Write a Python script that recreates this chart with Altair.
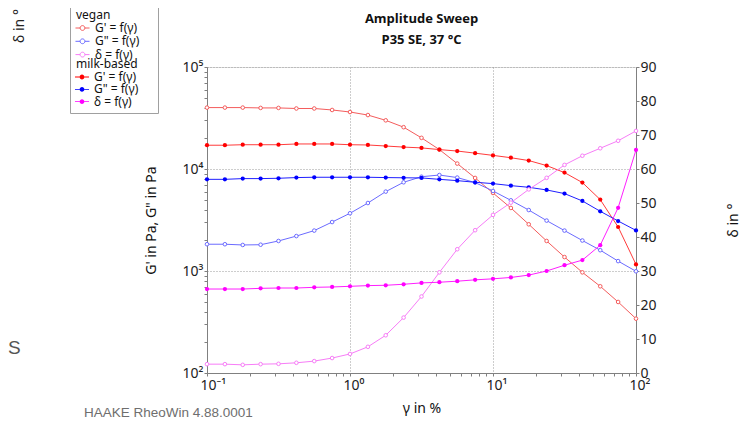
import altair as alt
import pandas as pd

# ---------------- data ----------------
strain = [0.1, 0.1334, 0.1778, 0.2371, 0.3162, 0.4217, 0.5623, 0.7499,
          1.0, 1.334, 1.778, 2.371, 3.162, 4.217, 5.623, 7.499,
          10.0, 13.34, 17.78, 23.71, 31.62, 42.17, 56.23, 74.99, 100.0]

vegan_G1 = [40000, 40000, 40000, 39700, 39700, 39200, 39200, 37900,
            36200, 33800, 30000, 25700, 20200, 15500, 11300, 8170,
            5820, 4150, 2870, 1970, 1370, 970, 708, 497, 341]
vegan_G2 = [1830, 1830, 1800, 1810, 1970, 2200, 2490, 3020,
            3680, 4640, 6000, 7410, 8400, 8730, 8240, 7360,
            6090, 4930, 3960, 3120, 2490, 1990, 1600, 1250, 993]
vegan_delta = [2.6, 2.6, 2.4, 2.6, 2.7, 3.0, 3.5, 4.4,
               5.6, 7.7, 11.1, 16.3, 22.5, 29.6, 36.4, 42.0,
               46.5, 50.1, 54.0, 57.4, 61.2, 63.9, 66.1, 68.3, 71.2]
milk_G1 = [17100, 17100, 17300, 17300, 17300, 17600, 17600, 17600,
           17300, 17200, 16800, 16400, 16100, 15500, 15000, 14300,
           13600, 12900, 12100, 10800, 9220, 7360, 5010, 2700, 1160]
milk_G2 = [7920, 7920, 8050, 8050, 8110, 8240, 8300, 8300,
           8300, 8300, 8240, 8200, 8170, 7920, 7690, 7410,
           7190, 6870, 6620, 6230, 5740, 4860, 3850, 3090, 2500]
milk_delta = [24.7, 24.7, 24.7, 24.9, 25.0, 25.0, 25.2, 25.3,
              25.5, 25.7, 25.8, 26.1, 26.5, 26.7, 27.0, 27.4,
              27.7, 28.1, 28.8, 30.0, 31.7, 33.2, 37.6, 48.6, 65.6]

series_keys = ["vegan G'", 'vegan G"', "vegan δ", "milk G'", 'milk G"', "milk δ"]
vegan_keys = series_keys[:3]
milk_keys = series_keys[3:]
line_colors = ["#f45c5c", "#6b6bff", "#f77df7", "#ff3b3b", "#1f1fff", "#ff1fff"]
milk_fill_colors = ["#ff0000", "#0000ff", "#ff00ff"]

x_ticks = [m * 10.0 ** e for e in (-1, 0, 1) for m in range(1, 10)] + [100.0]
y_ticks = [m * 10.0 ** e for e in (2, 3, 4) for m in range(1, 10)] + [100000.0]
d_ticks = list(range(0, 91, 10))

# ---------------- tables ----------------
def long_table(items, col):
    rows = []
    for key, group, vals in items:
        for xv, v in zip(strain, vals):
            rows.append({"strain": xv, col: v, "series": key, "group": group})
    return pd.DataFrame(rows)

df_G = long_table([(series_keys[0], "vegan", vegan_G1),
                   (series_keys[1], "vegan", vegan_G2),
                   (series_keys[3], "milk", milk_G1),
                   (series_keys[4], "milk", milk_G2)], "G")
df_d = long_table([(series_keys[2], "vegan", vegan_delta),
                   (series_keys[5], "milk", milk_delta)], "delta")

# ---------------- axes ----------------
FONT = "Noto Sans"
dec = "abs(log(datum.value)/LN10 - round(log(datum.value)/LN10)) < 0.001"
ex = "round(log(datum.value)/LN10)"
pow_label = (f"({dec}) ? '10' + ({ex} < 0 ? '⁻' : '') + "
             f"substring('⁰¹²³⁴⁵⁶⁷⁸⁹', abs({ex}), abs({ex}) + 1) : ''")
grid_cond = {"condition": {"test": dec, "value": 1}, "value": 0}

x_axis = alt.Axis(values=x_ticks, labelExpr=pow_label, grid=True, gridOpacity=grid_cond,
                  gridColor="#9a9a9a", gridDash=[1, 2], tickSize=3, tickColor="#808080",
                  domainColor="#808080", labelFontSize=14, labelFont=FONT, labelColor="#222",
                  labelPadding=2, labelAlign="left", labelOffset=-7, labelFlush=False,
                  labelOverlap=False, title="γ in %", titleFont=FONT, titleFontSize=14,
                  titleFontWeight="normal", titleColor="#111", titlePadding=9)
y_axis = alt.Axis(orient="left", values=y_ticks, labelExpr=pow_label, grid=True,
                  gridOpacity=grid_cond, gridColor="#9a9a9a", gridDash=[1, 2], tickSize=3,
                  tickColor="#808080", domainColor="#808080", labelFontSize=14, labelFont=FONT,
                  labelColor="#222", labelPadding=1, labelFlush=False, labelOverlap=False,
                  title="G' in Pa, G\" in Pa", titleFont=FONT, titleFontSize=14,
                  titleFontWeight="normal", titleColor="#111", titlePadding=24)
d_axis = alt.Axis(orient="right", values=d_ticks, grid=False, tickSize=3, tickColor="#808080",
                  domainColor="#808080", labelFontSize=14, labelFont=FONT, labelColor="#222",
                  labelPadding=1, labelFlush=False, title="δ in °", titleFont=FONT,
                  titleFontSize=14, titleFontWeight="normal", titleColor="#111",
                  titleAngle=270, titleBaseline="top", titlePadding=70)

x_enc = alt.X("strain:Q", scale=alt.Scale(type="log", domain=[0.1, 100], nice=False), axis=x_axis)
yG_enc = alt.Y("G:Q", scale=alt.Scale(type="log", domain=[100, 100000], nice=False), axis=y_axis)
yd_enc = alt.Y("delta:Q", scale=alt.Scale(domain=[0, 90], nice=False, zero=False), axis=d_axis)

# ---------------- legends ----------------
open_sym = "M-1.17,0H-0.4M0.4,0H1.17M0.4,0A0.4,0.4,0,1,1,-0.4,0A0.4,0.4,0,1,1,0.4,0"
fill_sym = ("M-1.17,-0.07H-0.4V0.07H-1.17Z M0.4,-0.07H1.17V0.07H0.4Z "
            "M0.4,0A0.4,0.4,0,1,1,-0.4,0A0.4,0.4,0,1,1,0.4,0Z")
lab_expr = "split(datum.label, ' ')[1] + ' = f(γ)'"
common_leg = dict(orient="none", legendX=-131, padding=0, rowPadding=0.3, labelFont=FONT,
                  labelFontSize=12, labelColor="#111", labelOffset=6, labelExpr=lab_expr,
                  titleFont=FONT, titleFontSize=12, titleFontWeight="normal", titleColor="#111",
                  titlePadding=0, symbolSize=144, symbolOpacity=1)
legend_vegan = alt.Legend(title="vegan", legendY=-57.5, values=vegan_keys, symbolType=open_sym,
                          symbolFillColor="white", symbolStrokeWidth=1, **common_leg)
legend_milk = alt.Legend(title="milk-based", legendY=-8, symbolType=fill_sym,
                         symbolStrokeWidth=0, **common_leg)

stroke_enc = alt.Stroke("series:N", scale=alt.Scale(domain=series_keys, range=line_colors),
                        legend=legend_vegan)
fill_enc = alt.Fill("series:N", scale=alt.Scale(domain=milk_keys, range=milk_fill_colors),
                    legend=legend_milk)

# ---------------- layers ----------------
def series_layers(df, y_enc):
    base = alt.Chart(df)
    lines = base.mark_line(strokeWidth=1, clip=False).encode(x=x_enc, y=y_enc, stroke=stroke_enc)
    open_pts = base.transform_filter(alt.datum.group == "vegan").mark_circle(
        size=13, fill="white", strokeWidth=1, opacity=1).encode(x=x_enc, y=y_enc, stroke=stroke_enc)
    full_pts = base.transform_filter(alt.datum.group == "milk").mark_circle(
        size=18, opacity=1).encode(x=x_enc, y=y_enc, fill=fill_enc)
    return [lines, open_pts, full_pts]

one = pd.DataFrame({"k": [0]})
legend_box = alt.Chart(one).mark_rect(fill="white", fillOpacity=0, stroke="#a0a0a0",
                                      strokeWidth=1).encode(
    x=alt.value(-136.5), x2=alt.value(-48.5), y=alt.value(-60.5), y2=alt.value(46.5))
footer = alt.Chart(one).mark_text(text="HAAKE RheoWin 4.88.0001", font="Liberation Sans",
                                  fontSize=13.5, color="#6e6e6e", align="left",
                                  baseline="middle").encode(x=alt.value(-123), y=alt.value(346))
stray_delta = alt.Chart(one).mark_text(text="δ in °", font=FONT, fontSize=14, color="#222",
                                       angle=270, align="center", baseline="middle").encode(
    x=alt.value(-187), y=alt.value(-41))
stray_s = alt.Chart(one).mark_text(text="S", font="Liberation Sans", fontSize=19, color="#555",
                                   align="left", baseline="middle").encode(
    x=alt.value(-199), y=alt.value(281))

left = alt.layer(*series_layers(df_G, yG_enc), legend_box, footer, stray_delta, stray_s)
right = alt.layer(*series_layers(df_d, yd_enc))

chart = alt.layer(left, right).resolve_scale(y="independent").properties(
    width=429, height=306,
    padding={"left": 199, "top": 59, "right": 105, "bottom": 47},
    autosize=alt.AutoSizeParams(type="none"),
    title=alt.TitleParams(text=["Amplitude Sweep", "P35 SE, 37 °C"], font="Open Sans",
                          fontSize=13, fontWeight="bold", color="#111", anchor="middle",
                          frame="group", offset=17, dy=58, lineHeight=21),
).configure_view(stroke=None).configure(background="white")

chart.save("out.html", embed_options={"renderer": "svg", "actions": False})
